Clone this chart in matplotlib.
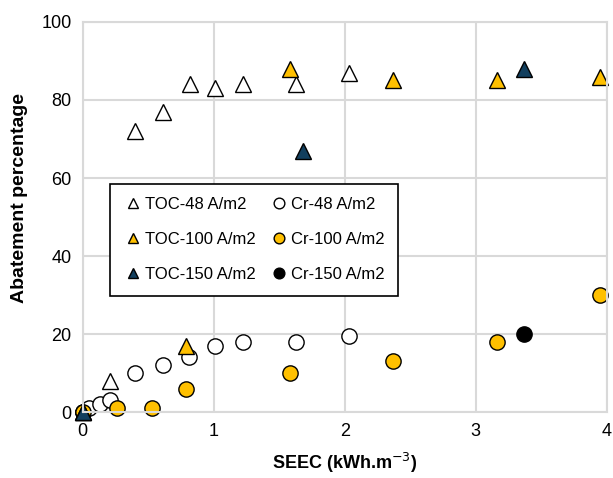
import numpy as np
import matplotlib.pyplot as plt

plt.rcParams['font.family'] = ['Liberation Sans', 'DejaVu Sans']

# SEEC (kWh/m3) and abatement (%)
toc48_x = [0, 0.21, 0.40, 0.61, 0.82, 1.01, 1.22, 1.63, 2.03]
toc48_y = [0, 8, 72, 77, 84, 83, 84, 84, 87]
cr48_x = [0, 0.05, 0.13, 0.21, 0.40, 0.61, 0.81, 1.01, 1.22, 1.63, 2.03]
cr48_y = [0, 1, 2, 3, 10, 12, 14, 17, 18, 18, 19.5]

toc100_x = [0, 0.79, 1.58, 2.37, 3.16, 3.95]
toc100_y = [0, 17, 88, 85, 85, 86]
cr100_x = [0, 0.26, 0.53, 0.79, 1.58, 2.37, 3.16, 3.95]
cr100_y = [0, 1, 1, 6, 10, 13, 18, 30]

toc150_x = [0, 1.68, 3.37]
toc150_y = [0, 67, 88]
cr150_x = [0, 3.37]
cr150_y = [0, 20]

yellow = '#FFC000'
navy = '#123F5E'

fig = plt.figure(figsize=(6.13, 4.78), dpi=100)
ax = fig.add_axes([0.135, 0.138, 0.855, 0.816])

ms = 11
kw = dict(ms=ms, mec='black', mew=1, ls='none', clip_on=False)
# circles first, triangles on top (as in the original)
h6, = ax.plot(cr150_x, cr150_y, 'o', mfc='black', label='Cr-150 A/m2', **kw)
h2, = ax.plot(cr48_x, cr48_y, 'o', mfc='white', label='Cr-48 A/m2', **kw)
h4, = ax.plot(cr100_x, cr100_y, 'o', mfc=yellow, label='Cr-100 A/m2', **kw)
h1, = ax.plot(toc48_x, toc48_y, '^', mfc='white', label='TOC-48 A/m2', **kw)
h3, = ax.plot(toc100_x, toc100_y, '^', mfc=yellow, label='TOC-100 A/m2', **kw)
h5, = ax.plot(toc150_x, toc150_y, '^', mfc=navy, label='TOC-150 A/m2', **kw)

ax.set_xlim(0, 4)
ax.set_ylim(0, 100)
ax.set_xticks([0, 1, 2, 3, 4])
ax.set_yticks([0, 20, 40, 60, 80, 100])
ax.grid(True, color='#D9D9D9', lw=1.5)
ax.set_axisbelow(True)
for s in ax.spines.values():
    s.set_color('#D9D9D9')
    s.set_linewidth(1.5)
ax.tick_params(length=0, labelsize=13, pad=8)

ax.set_xlabel('SEEC (kWh.m$^{-3}$)', fontsize=13, fontweight='bold', labelpad=8)
ax.set_ylabel('Abatement percentage', fontsize=14, fontweight='bold')
ax.yaxis.set_label_coords(-0.105, 0.55)

leg = ax.legend(handles=[h1, h3, h5, h2, h4, h6], ncol=2, loc='upper left',
                bbox_to_anchor=(0.052, 0.585), borderaxespad=0, fontsize=12,
                markerscale=0.7, handletextpad=0.1, columnspacing=0.8,
                labelspacing=1.2, handlelength=1.2, fancybox=False,
                framealpha=1, edgecolor='black', borderpad=0.8)
leg.get_frame().set_linewidth(1.2)

fig.savefig('out.png', dpi=100)
